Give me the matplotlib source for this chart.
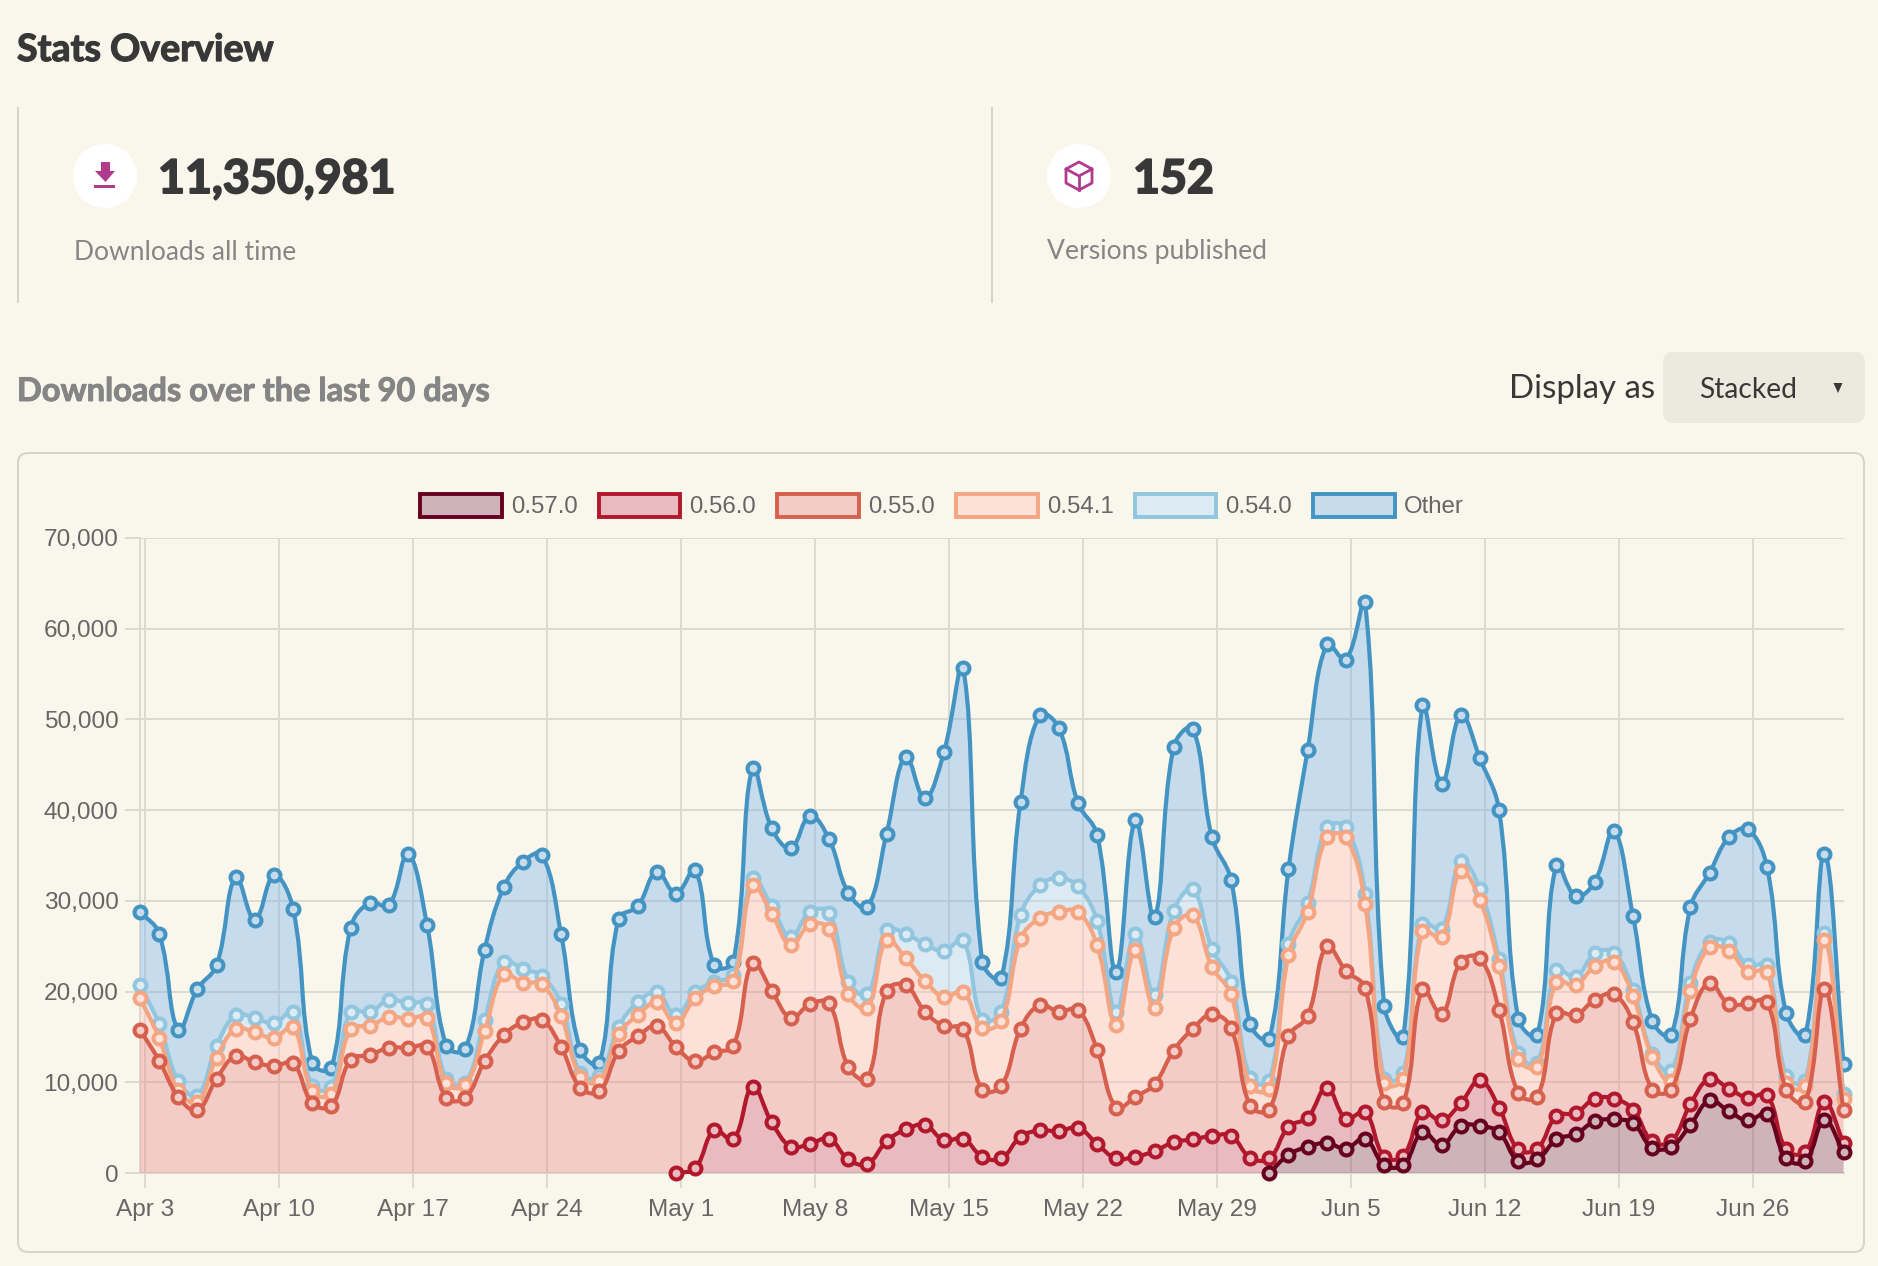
import numpy as np
import matplotlib
matplotlib.use("Agg")
import matplotlib.pyplot as plt
import matplotlib.patheffects as pe
from matplotlib.path import Path
from matplotlib.patches import PathPatch, Patch, Circle, FancyBboxPatch, Polygon

# stack tops in thousands of downloads
top_other = [28.8, 26.4, 15.8, 20.3, 22.9, 32.6, 27.9, 32.8, 29.1, 12.1, 11.6, 27.0, 29.8, 29.5, 35.2, 27.3, 14.0, 13.7,
             24.6, 31.5, 34.3, 35.1, 26.3, 13.6, 12.1, 28.0, 29.4, 33.2, 30.8, 33.4, 22.9,
             23.3, 44.7, 38.0, 35.8, 39.4, 36.8, 30.9, 29.3, 37.4, 45.9, 41.3, 46.4, 55.7, 23.3, 21.5, 40.9, 50.5,
             49.1, 40.8, 37.3, 22.2, 38.9, 28.2, 47.0, 49.0, 37.0, 32.3, 16.4, 14.8, 33.5,
             46.6, 58.3, 56.6, 62.9, 18.4, 15.0, 51.6, 42.9, 50.5, 45.7, 40.0, 17.0, 15.2, 34.0, 30.5, 32.1, 37.7,
             28.3, 16.8, 15.2, 29.3, 33.1, 37.0, 37.9, 33.7, 17.6, 15.2, 35.2, 12.0]
top_540 = [20.7, 16.4, 10.1, 8.5, 14.0, 17.4, 17.1, 16.5, 17.8, 9.6, 9.5, 17.8, 17.7, 19.1, 18.7, 18.6, 10.4, 9.9,
           16.9, 23.3, 22.5, 21.7, 18.6, 11.0, 10.7, 16.1, 18.8, 19.9, 17.4, 19.9, 21.1,
           21.8, 32.5, 29.4, 26.0, 28.8, 28.7, 21.1, 19.7, 26.8, 26.4, 25.2, 24.5, 25.7, 16.9, 17.8, 28.4, 31.7,
           32.5, 31.6, 27.8, 17.8, 26.4, 19.6, 28.9, 31.3, 24.7, 21.1, 10.5, 10.1, 25.2,
           29.8, 38.1, 38.1, 30.8, 10.4, 11.0, 27.5, 26.9, 34.4, 31.3, 23.6, 13.2, 12.1, 22.4, 21.6, 24.2, 24.3,
           20.2, 13.1, 11.2, 21.0, 25.5, 25.4, 22.9, 22.9, 10.7, 10.1, 26.5, 8.7]
top_541 = [19.3, 14.9, 9.1, 7.8, 12.7, 15.9, 15.5, 14.9, 16.1, 9.0, 8.7, 15.9, 16.2, 17.2, 17.0, 17.1, 9.9, 9.7,
           15.6, 21.9, 21.0, 20.8, 17.3, 10.6, 10.1, 15.3, 17.4, 18.8, 16.5, 19.3, 20.6,
           21.2, 31.7, 28.6, 25.1, 27.4, 26.9, 19.7, 18.2, 25.7, 23.7, 21.2, 19.4, 20.0, 16.0, 16.8, 25.8, 28.1,
           28.8, 28.8, 25.1, 16.3, 24.6, 18.2, 27.0, 28.4, 22.7, 19.7, 9.6, 9.3, 24.0,
           28.8, 37.0, 37.0, 29.7, 9.9, 10.4, 26.7, 26.0, 33.3, 30.1, 22.8, 12.6, 11.7, 21.1, 20.7, 22.8, 23.3,
           19.5, 12.8, 10.1, 20.1, 24.9, 24.5, 22.2, 22.2, 9.9, 9.6, 25.7, 8.2]
top_550 = [15.8, 12.4, 8.4, 6.9, 10.4, 12.9, 12.2, 11.8, 12.1, 7.7, 7.4, 12.5, 13.0, 13.8, 13.8, 13.9, 8.3, 8.3,
           12.3, 15.2, 16.6, 16.9, 13.9, 9.4, 9.0, 13.4, 15.1, 16.2, 13.9, 12.3, 13.3,
           14.0, 23.2, 20.1, 17.1, 18.6, 18.7, 11.7, 10.4, 20.1, 20.7, 17.8, 16.2, 15.9, 9.2, 9.6, 15.9, 18.5,
           17.8, 18.0, 13.6, 7.2, 8.4, 9.8, 13.5, 15.9, 17.5, 16.0, 7.4, 7.0, 15.1,
           17.3, 25.0, 22.3, 20.4, 7.8, 7.7, 20.3, 17.5, 23.3, 23.7, 18.0, 8.8, 8.4, 17.6, 17.4, 19.1, 19.7,
           16.6, 9.2, 9.2, 17.0, 21.0, 18.6, 18.7, 18.9, 9.2, 7.8, 20.3, 6.9]
top_560 = [None] * 28 + [0.0, 0.5, 4.7,
           3.7, 9.5, 5.6, 2.9, 3.2, 3.8, 1.5, 1.0, 3.5, 4.8, 5.3, 3.6, 3.8, 1.8, 1.6, 4.0, 4.7,
           4.6, 5.0, 3.2, 1.6, 1.8, 2.4, 3.4, 3.7, 4.1, 4.1, 1.7, 1.6, 5.1,
           6.1, 9.4, 6.0, 6.7, 1.8, 1.9, 6.7, 5.8, 7.7, 10.2, 7.2, 2.6, 2.7, 6.3, 6.6, 8.2, 8.2,
           7.0, 3.5, 3.5, 7.6, 10.4, 9.3, 8.3, 8.6, 2.6, 2.3, 7.8, 3.3]
top_570 = [None] * 59 + [0.0, 2.0,
           2.9, 3.3, 2.7, 3.8, 0.9, 0.9, 4.5, 3.1, 5.2, 5.2, 4.5, 1.3, 1.5, 3.7, 4.3, 5.7, 5.9,
           5.5, 2.8, 2.9, 5.3, 8.0, 6.8, 5.8, 6.5, 1.6, 1.3, 5.8, 2.3]

versions = ["0.57.0", "0.56.0", "0.55.0", "0.54.1", "0.54.0", "Other"]
colors = ["#67001f", "#b2182b", "#d6604d", "#f4a582", "#92c5de", "#4393c3"]
# drawn at alpha 0.4 so the grid still shows through, as in the reference
fill_colors = ["#904d71", "#d1617e", "#ea8c90", "#ffc0bc", "#b1d9ff", "#7ab4ec"]
tops = [top_570, top_560, top_550, top_541, top_540, top_other]

tick_labels = ["Apr 3", "Apr 10", "Apr 17", "Apr 24", "May 1", "May 8", "May 15",
               "May 22", "May 29", "Jun 5", "Jun 12", "Jun 19", "Jun 26"]
ytick_values = [0, 10000, 20000, 30000, 40000, 50000, 60000, 70000]

BG = "#f9f7ec"
GRID = "#dddbd0"
BORDER = "#d5d3ca"
TICK = "#666666"
DARK = "#383838"
GREY = "#858585"
MAGENTA = "#b03a8c"
FONT = "Lato"
FILL_ALPHA = 0.4

W, H = 1878, 1266
LEFT, RIGHT, TOP, BOTTOM = 140, 1843.6, 538, 1173
days = np.arange(90) - 0.25
PX_X = (RIGHT - LEFT) / 89
PX_Y = (BOTTOM - TOP) / 70000


def spline_path_arrays(x, y, tension=0.4):
    # same control points as chart.js bezier lines, distances taken in pixels
    n = len(x)
    verts = [(x[0], y[0])]
    codes = [Path.MOVETO]
    nexts = []
    prevs = []
    for i in range(n):
        a = max(i - 1, 0)
        b = min(i + 1, n - 1)
        d01 = np.hypot((x[i] - x[a]) * PX_X, (y[i] - y[a]) * PX_Y)
        d12 = np.hypot((x[b] - x[i]) * PX_X, (y[b] - y[i]) * PX_Y)
        total = d01 + d12
        s01 = d01 / total if total else 0
        s12 = d12 / total if total else 0
        dx, dy = x[b] - x[a], y[b] - y[a]
        prevs.append((x[i] - tension * s01 * dx, y[i] - tension * s01 * dy))
        nexts.append((x[i] + tension * s12 * dx, y[i] + tension * s12 * dy))
    for i in range(n - 1):
        verts += [nexts[i], prevs[i + 1], (x[i + 1], y[i + 1])]
        codes += [Path.CURVE4] * 3
    return verts, codes


def to_values(top):
    return np.array([np.nan if v is None else v * 1000 for v in top])


def blend(color, alpha=FILL_ALPHA):
    c = np.array(matplotlib.colors.to_rgb(color))
    b = np.array(matplotlib.colors.to_rgb(BG))
    return tuple(c * alpha + b * (1 - alpha))


fig = plt.figure(figsize=(W / 100, H / 100), dpi=100, facecolor=BG)

# page furniture, drawn in pixel coordinates
page = fig.add_axes([0, 0, 1, 1])
page.set_xlim(0, W)
page.set_ylim(H, 0)
page.axis("off")


def label(x, y, s, size, color, weight="normal", heavy=0):
    t = page.text(x, y, s, fontsize=size * 0.72, color=color, fontweight=weight, family=FONT,
                  ha="left", va="baseline")
    if heavy:
        t.set_path_effects([pe.withStroke(linewidth=heavy, foreground=color)])


label(17, 61, "Stats Overview", 37.5, DARK, "bold", 0.9)
for x in [18, 992]:
    page.plot([x, x], [108, 302], color=BORDER, lw=1.4)

for cx in [105, 1079]:
    page.add_patch(Circle((cx, 176), 32, color="white", lw=0))

# download icon
page.add_patch(Polygon([(101, 162), (110, 162), (110, 171), (115, 171), (105.5, 182), (95, 171), (101, 171)],
                       color=MAGENTA, lw=0))
page.add_patch(Polygon([(94, 185), (115, 185), (115, 188), (94, 188)], color=MAGENTA, lw=0))
# box icon
hexagon = [(1079, 162), (1092, 169), (1092, 183), (1079, 190), (1066, 183), (1066, 169)]
page.add_patch(Polygon(hexagon, closed=True, fill=False, edgecolor=MAGENTA, lw=2.0, joinstyle="round"))
page.plot([1066, 1079, 1092], [169, 176, 169], color=MAGENTA, lw=2.0)
page.plot([1079, 1079], [176, 190], color=MAGENTA, lw=2.0)

label(158, 193, "11,350,981", 46.5, DARK, "bold", 1.4)
label(1133, 193, "152", 46.5, DARK, "bold", 1.4)
label(74, 259.5, "Downloads all time", 26.4, GREY)
label(1047, 259.5, "Versions published", 26.5, GREY)
label(17, 401, "Downloads over the last 90 days", 32.6, GREY, "bold", 0.7)
label(1509, 398, "Display as", 33, DARK)

page.add_patch(FancyBboxPatch((1663, 352), 202, 71, boxstyle="round,pad=0,rounding_size=10", lw=0, fc="#eceadf", ec="none"))
label(1699, 398, "Stacked", 28.2, DARK)
page.add_patch(Polygon([(1833.5, 383), (1842.5, 383), (1838, 393)], color=DARK, lw=0))

page.add_patch(FancyBboxPatch((18, 453), 1846, 799, boxstyle="round,pad=0,rounding_size=10", fill=False,
                              ec=BORDER, lw=1.4))

# the chart itself
ax = fig.add_axes([LEFT / W, 1 - BOTTOM / H, (RIGHT - LEFT) / W, (BOTTOM - TOP) / H])
ax.patch.set_alpha(0)
ax.set_xlim(days[0], days[-1])
ax.set_ylim(0, 70000)
ax.set_axisbelow(True)
ax.grid(True, color=GRID, lw=1.4)
for side in ["top", "right"]:
    ax.spines[side].set_visible(False)
for side in ["left", "bottom"]:
    ax.spines[side].set_color(GRID)
    ax.spines[side].set_linewidth(1.4)
ax.set_xticks(np.arange(len(tick_labels)) * 7)
ax.set_xticklabels(tick_labels)
ax.set_yticks(ytick_values)
ax.set_yticklabels([f"{v:,}" for v in ytick_values])
ax.tick_params(axis="both", length=11, width=1.4, color=GRID, labelcolor=TICK, labelsize=24.4 * 0.72,
               labelfontfamily="Liberation Sans")
ax.tick_params(axis="y", pad=4.5)
ax.tick_params(axis="x", pad=7.5)

stack = [to_values(t) for t in tops]
for i, (vals, color, fill) in enumerate(zip(stack, colors, fill_colors)):
    mask = ~np.isnan(vals)
    x = days[mask]
    y = vals[mask]
    verts, codes = spline_path_arrays(x, y)
    if i == 0:
        base = np.zeros(len(x))
    else:
        base = np.nan_to_num(stack[i - 1])[mask]
    base_verts, base_codes = spline_path_arrays(x, base)
    area_verts = verts + [(x[-1], base[-1])] + base_verts[::-1][1:] + [(x[0], y[0])]
    area_codes = codes + [Path.LINETO] + base_codes[1:] + [Path.CLOSEPOLY]
    z = 10 - i
    ax.add_patch(PathPatch(Path(area_verts, area_codes), facecolor=fill, alpha=FILL_ALPHA, lw=0, zorder=z))
    ax.add_patch(PathPatch(Path(verts, codes), fill=False, edgecolor=color, lw=3.0, zorder=z + 10 - i * 0.1,
                           clip_on=False, capstyle="round"))
    ax.plot(x, y, ls="none", marker="o", ms=8.6, mew=2.9, mec=color, mfc=blend(fill), zorder=z + 10.05 - i * 0.1,
            clip_on=False)

handles = [Patch(facecolor=matplotlib.colors.to_rgba(f, FILL_ALPHA), edgecolor=c, lw=2.8)
           for c, f in zip(colors, fill_colors)]
fig.legend(handles, versions, loc="center", bbox_to_anchor=(942 / W, 1 - 506 / H), ncol=6, frameon=False,
           prop={"family": "Liberation Sans", "size": 24 * 0.72}, labelcolor=TICK, handlelength=3.4, handleheight=1.1,
           handletextpad=0.38, columnspacing=0.88, borderpad=0, borderaxespad=0)

fig.savefig("out.png", dpi=100, facecolor=BG)
